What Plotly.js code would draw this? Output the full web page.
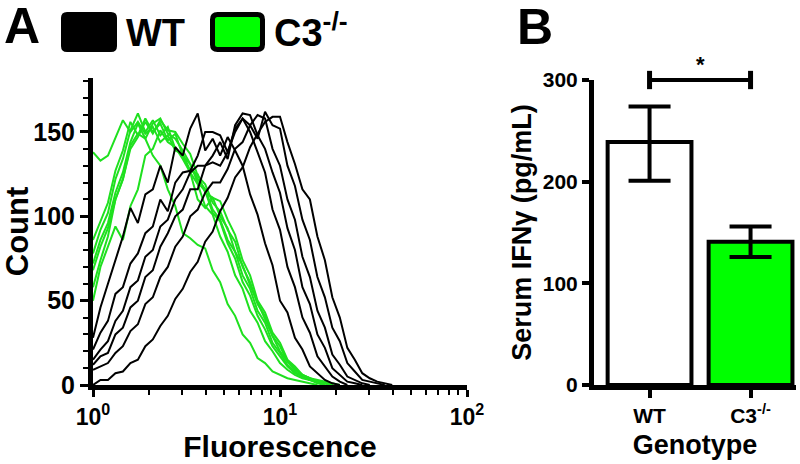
<!DOCTYPE html>
<html>
<head>
<meta charset="utf-8">
<script src="https://cdn.plot.ly/plotly-3.0.1.min.js"></script>
<style>html,body{margin:0;padding:0;background:#fff;}#chart{width:800px;height:464px;}</style>
</head>
<body>
<div id="chart"></div>
<script>
// ---------- Panel A: flow cytometry histograms ----------
var fluor = [1.000,1.096,1.202,1.318,1.445,1.585,1.738,1.905,2.089,2.291,
             2.512,2.754,3.020,3.311,3.631,3.981,4.365,4.786,5.248,5.754,
             6.310,6.918,7.586,8.318,9.120,10.00,10.96,12.02,13.18,14.45,
             15.85,17.38,19.05,20.89,22.91,25.12,27.54,30.20,33.11,36.31,39.81];

var c3_1 = [138,133,136,147,157,150,156,149,153,144,148,139,137,127,125,114,111,100,93,79,71,59,49,38,29,20,14,9,6,4,3,2,1,0];
var c3_2 = [86,97,108,127,139,156,148,158,150,155,145,149,136,131,120,115,102,97,84,75,61,53,41,33,23,17,11,7,5,3,2,1,0];
var c3_3 = [78,92,102,122,134,151,161,150,157,148,153,140,136,126,119,106,101,88,79,65,57,44,37,26,20,13,9,6,4,3,1,0];
var c3_4 = [72,86,96,114,126,144,155,146,155,158,149,146,139,131,122,116,104,98,86,79,65,57,44,37,25,19,12,8,5,3,2,1,0];
var c3_5 = [68,82,93,110,122,140,147,156,149,157,151,150,143,137,124,119,108,103,92,85,70,61,48,41,29,23,14,10,6,4,2,1,0];
var c3_6 = [50,70,82,94,86,106,116,136,140,151,144,141,134,126,110,105,111,109,98,89,74,65,50,43,31,25,15,11,6,4,2,1,0];
var c3_7 = [58,74,88,110,122,142,149,146,136,130,116,106,90,87,83,81,68,61,48,41,30,25,16,13,8,6,4,3,2,1,0];

var wt_1 = [28,46,60,74,88,105,96,113,116,130,120,141,136,152,161,139,146,136,147,139,130,113,101,84,71,50,43,28,21,11,7,3,1,0];
var wt_2 = [21,31,38,54,58,72,78,90,94,110,103,120,126,127,136,150,150,148,138,152,158,150,138,126,104,92,70,58,40,31,17,11,5,2,0];
var wt_3 = [15,21,26,38,44,58,62,76,80,94,98,110,116,126,130,130,136,144,134,154,161,160,148,140,126,114,93,80,58,48,30,22,10,6,2,1,0];
var wt_4 = [12,17,19,30,34,46,50,64,68,82,90,100,104,116,116,130,132,130,138,150,158,154,160,158,140,130,110,98,76,64,44,34,18,12,5,3,1,0];
var wt_5 = [9,11,13,19,23,32,36,48,52,64,70,82,88,100,104,114,120,120,128,140,144,154,146,162,154,152,130,118,98,86,64,52,34,26,13,8,3,2,1,0];
var wt_6 = [0,3,3,7,8,13,15,23,27,35,41,51,57,67,73,85,91,103,111,123,129,141,149,156,159,159,144,131,116,110,88,74,52,40,22,15,7,4,2,1,0];

var c3Series = [c3_1, c3_2, c3_3, c3_4, c3_5, c3_6, c3_7];
var wtSeries = [wt_1, wt_2, wt_3, wt_4, wt_5, wt_6];

// ---------- Panel B: serum IFN-gamma ----------
var genotypes = ['WT', 'C3<sup>-/-</sup>'];
var ifngMean = [239, 141];
var ifngErrUp = [35, 15];
var ifngErrDown = [38, 15];
var barColors = ['#ffffff', '#00ff00'];

var GREEN_LINE = '#1fe01f';
var FONT = 'Liberation Sans, Arial, Helvetica, sans-serif';

var traces = [];
c3Series.forEach(function (s) {
  traces.push({type: 'scatter', mode: 'lines', x: fluor.slice(0, s.length), y: s, xaxis: 'x', yaxis: 'y',
    line: {color: GREEN_LINE, width: 2}, showlegend: false, hoverinfo: 'skip'});
});
wtSeries.forEach(function (s) {
  traces.push({type: 'scatter', mode: 'lines', x: fluor.slice(0, s.length), y: s, xaxis: 'x', yaxis: 'y',
    line: {color: '#000000', width: 2}, showlegend: false, hoverinfo: 'skip'});
});
traces.push({
  type: 'bar', x: genotypes, y: ifngMean, xaxis: 'x2', yaxis: 'y2', width: 0.83,
  marker: {color: barColors, line: {color: '#000', width: 4}},
  error_y: {type: 'data', symmetric: false, array: ifngErrUp, arrayminus: ifngErrDown,
            color: '#000', thickness: 4, width: 21},
  showlegend: false
});

function px(x) { return x / 800; }
function py(y) { return 1 - y / 464; }
function roundRect(x0, y0, x1, y1, r) {
  return 'M' + px(x0 + r) + ',' + py(y0) +
    ' L' + px(x1 - r) + ',' + py(y0) +
    ' Q' + px(x1) + ',' + py(y0) + ' ' + px(x1) + ',' + py(y0 + r) +
    ' L' + px(x1) + ',' + py(y1 - r) +
    ' Q' + px(x1) + ',' + py(y1) + ' ' + px(x1 - r) + ',' + py(y1) +
    ' L' + px(x0 + r) + ',' + py(y1) +
    ' Q' + px(x0) + ',' + py(y1) + ' ' + px(x0) + ',' + py(y1 - r) +
    ' L' + px(x0) + ',' + py(y0 + r) +
    ' Q' + px(x0) + ',' + py(y0) + ' ' + px(x0 + r) + ',' + py(y0) + ' Z';
}

var bold = function (size) { return {family: FONT, size: size, color: '#000', weight: 'bold'}; };

var layout = {
  width: 800, height: 464,
  margin: {l: 0, r: 0, t: 0, b: 0},
  paper_bgcolor: '#fff', plot_bgcolor: '#fff',
  showlegend: false,
  xaxis: {
    type: 'log', range: [0, 2], domain: [93 / 800, 467 / 800], anchor: 'y',
    tickvals: [1, 10, 100], ticktext: ['10<sup>0</sup>', '10<sup>1</sup>', '10<sup>2</sup>'],
    ticks: 'outside', ticklen: 7, tickwidth: 3, tickcolor: '#000',
    minor: {tickvals: [2,3,4,5,6,7,8,9,20,30,40,50,60,70,80,90], ticks: 'outside', ticklen: 5, tickwidth: 2, tickcolor: '#000', showgrid: false},
    showline: true, linewidth: 5, linecolor: '#000', showgrid: false, zeroline: false,
    tickfont: bold(23),
    title: {text: 'Fluorescence', font: bold(30), standoff: 8}
  },
  yaxis: {
    range: [0, 182], domain: [(464 - 385) / 464, (464 - 78) / 464], anchor: 'x',
    tickvals: [0, 50, 100, 150],
    ticks: 'outside', ticklen: 8, tickwidth: 3, tickcolor: '#000',
    minor: {dtick: 10, ticks: 'outside', ticklen: 5, tickwidth: 2, tickcolor: '#000', showgrid: false},
    showline: true, linewidth: 5, linecolor: '#000', showgrid: false, zeroline: false,
    tickfont: bold(25),
    title: {text: 'Count', font: bold(31), standoff: 6}
  },
  xaxis2: {
    type: 'category', range: [-0.55, 1.45], domain: [594 / 800, 796 / 800], anchor: 'y2',
    ticks: 'outside', ticklen: 8, tickwidth: 4, tickcolor: '#000',
    showline: true, linewidth: 5, linecolor: '#000', showgrid: false, zeroline: false,
    tickfont: bold(21),
    title: {text: 'Genotype', font: bold(27), standoff: 10}
  },
  yaxis2: {
    range: [0, 300], domain: [(464 - 385) / 464, (464 - 80) / 464], anchor: 'x2',
    tickvals: [0, 100, 200, 300],
    ticks: 'outside', ticklen: 7, tickwidth: 4, tickcolor: '#000',
    showline: true, linewidth: 5, linecolor: '#000', showgrid: false, zeroline: false,
    tickfont: bold(21),
    title: {text: 'Serum IFN\u03b3 (pg/mL)', font: bold(27), standoff: 5}
  },
  shapes: [
    {type: 'path', xref: 'paper', yref: 'paper', path: roundRect(61, 12, 117, 52, 6),
     fillcolor: '#000', line: {color: '#000', width: 0}},
    {type: 'path', xref: 'paper', yref: 'paper', path: roundRect(212.5, 14.5, 262.5, 49.5, 5),
     fillcolor: '#00ff00', line: {color: '#000', width: 5}},
    {type: 'line', xref: 'x2', yref: 'y2 domain', x0: 0, x1: 1, y0: 1, y1: 1, line: {color: '#000', width: 4}},
    {type: 'line', xref: 'x2', yref: 'y2 domain', x0: 0, x1: 0, y0: 0.97, y1: 1.03, line: {color: '#000', width: 5}},
    {type: 'line', xref: 'x2', yref: 'y2 domain', x0: 1, x1: 1, y0: 0.97, y1: 1.03, line: {color: '#000', width: 5}}
  ],
  annotations: [
    {xref: 'paper', yref: 'paper', x: px(2), y: py(26), xanchor: 'left', yanchor: 'middle',
     text: 'A', showarrow: false, font: bold(50)},
    {xref: 'paper', yref: 'paper', x: px(515), y: py(27), xanchor: 'left', yanchor: 'middle',
     text: 'B', showarrow: false, font: bold(50)},
    {xref: 'paper', yref: 'paper', x: px(124), y: py(33), xanchor: 'left', yanchor: 'middle',
     text: 'WT', showarrow: false, font: bold(38)},
    {xref: 'paper', yref: 'paper', x: px(272), y: py(30), xanchor: 'left', yanchor: 'middle',
     text: 'C3<sup>-/-</sup>', showarrow: false, font: bold(38)},
    {xref: 'x2', yref: 'y2 domain', x: 0.5, y: 1, yshift: 16, xanchor: 'center', yanchor: 'middle',
     text: '*', showarrow: false, font: bold(22)}
  ]
};

Plotly.newPlot('chart', traces, layout, {staticPlot: true, displayModeBar: false});
</script>
</body>
</html>
